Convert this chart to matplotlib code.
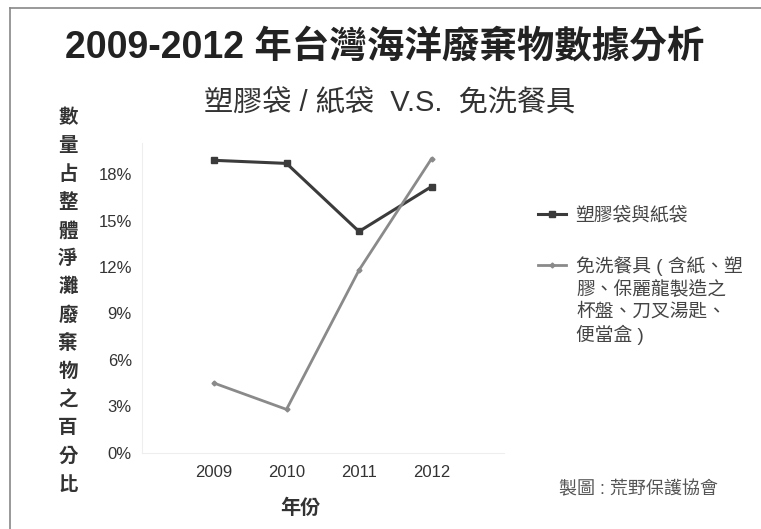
import matplotlib.pyplot as plt
from matplotlib.lines import Line2D

plt.rcParams['font.family'] = ['Liberation Sans', 'Noto Sans CJK TC', 'DejaVu Sans']

years = [2009, 2010, 2011, 2012]
bags = [18.9, 18.7, 14.3, 17.2]
tableware = [4.5, 2.8, 11.8, 19.0]
yticks = [0, 3, 6, 9, 12, 15, 18]
bags_label = "塑膠袋與紙袋"
ware_label = ["免洗餐具 ( 含紙、塑", "膠、保麗龍製造之", "杯盤、刀叉湯匙、", "便當盒 )"]
ylabel_chars = list("數量占整體淨灘廢棄物之百分比")

W, H = 761, 529
fig = plt.figure(figsize=(W / 100, H / 100), dpi=100)
fig.patch.set_facecolor('white')

ax = fig.add_axes([141.5 / W, 1 - 452.7 / H, (504 - 141.5) / W, (452.7 - 143.3) / H])
l1, = ax.plot(years, bags, color='#3b3b3b', lw=2.2, marker='s', ms=5)
l2, = ax.plot(years, tableware, color='#8a8a8a', lw=2, marker='D', ms=2.5)

ax.set_xlim(2008, 2013)
ax.set_ylim(0, 20)
ax.set_xticks(years)
ax.set_yticks(yticks)
ax.set_yticklabels([f"{v}%" for v in yticks])
ax.tick_params(length=0, labelsize=12, colors='#333333')
ax.tick_params(axis='x', pad=9)
ax.tick_params(axis='y', pad=7)
for s in ['top', 'right']:
    ax.spines[s].set_visible(False)
for s in ['left', 'bottom']:
    ax.spines[s].set_color('#eeeeee')

# frame lines (top and left only)
fig.add_artist(Line2D([10 / W, 10 / W], [0, 1 - 8 / H], color='#888888', lw=1.2))
fig.add_artist(Line2D([10 / W, 1], [1 - 8 / H, 1 - 8 / H], color='#888888', lw=1.2))

fig.text(385 / W, 1 - 48 / H, "2009-2012 年台灣海洋廢棄物數據分析", fontsize=27,
         fontweight='bold', color='#222222', ha='center', va='center')
fig.text(390 / W, 1 - 104 / H, "塑膠袋 / 紙袋  V.S.  免洗餐具", fontsize=21,
         color='#333333', ha='center', va='center')

for i, ch in enumerate(ylabel_chars):
    fig.text(68 / W, 1 - (118 + i * 28.2) / H, ch, fontsize=14, fontweight='bold',
             color='#333333', ha='center', va='center')

fig.text(300 / W, 1 - 508 / H, "年份", fontsize=14.5, fontweight='bold',
         color='#333333', ha='center', va='center')
fig.text(638 / W, 1 - 490 / H, "製圖 : 荒野保護協會", fontsize=13,
         color='#555555', ha='center', va='center')

# legend entries
leg_fs = 13.5
for handle, label, yc in [(l1, bags_label, 216), (l2, ware_label[0], 266)]:
    lg = fig.legend([handle], [label], loc='center left',
                    bbox_to_anchor=(538 / W, 1 - yc / H), frameon=False,
                    fontsize=leg_fs, handlelength=1.5, handletextpad=0.5,
                    borderpad=0, borderaxespad=0)
    for t in lg.get_texts():
        t.set_color('#444444')
for i, line in enumerate(ware_label[1:]):
    fig.text(576 / W, 1 - (266 + (i + 1) * 23) / H, line, fontsize=leg_fs,
             color='#444444', ha='left', va='center')

fig.savefig('out.png', dpi=100)
